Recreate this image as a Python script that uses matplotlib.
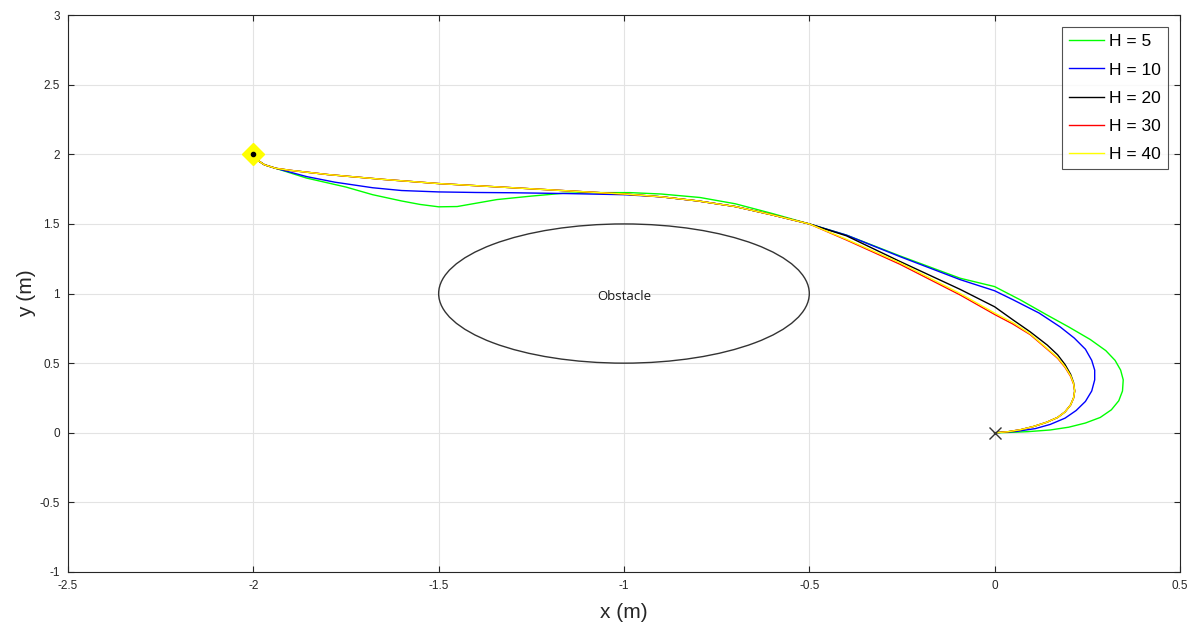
import matplotlib
matplotlib.use("Agg")
import matplotlib.pyplot as plt
import numpy as np
from matplotlib.patches import Ellipse

plt.rcParams['font.family'] = ['Liberation Sans', 'DejaVu Sans']

# ---- data ----
labels = ["H = 5", "H = 10", "H = 20", "H = 30", "H = 40"]
colors = ["#00ff00", "#0000ff", "#000000", "#ff0000", "#ffff00"]

start_seg_x = [-2.0, -1.99, -1.97, -1.94]
start_seg_y = [2.0, 1.96, 1.925, 1.90]

h5_x = start_seg_x + [-1.857, -1.75, -1.678, -1.60, -1.55, -1.50, -1.45, -1.343, -1.25, -1.165, -1.08, -0.984,
                      -0.90, -0.795, -0.70, -0.60, -0.50, -0.40, -0.255, -0.093, 0.0, 0.069, 0.142, 0.20,
                      0.258, 0.30, 0.325, 0.34, 0.347, 0.345, 0.335, 0.315, 0.285, 0.245, 0.20, 0.15,
                      0.09, 0.034, 0.0]
h5_y = start_seg_y + [1.83, 1.765, 1.71, 1.665, 1.64, 1.623, 1.625, 1.675, 1.70, 1.72, 1.725, 1.725,
                      1.715, 1.69, 1.645, 1.575, 1.50, 1.42, 1.27, 1.11, 1.05, 0.955, 0.845, 0.76,
                      0.67, 0.59, 0.52, 0.45, 0.38, 0.30, 0.23, 0.165, 0.11, 0.07, 0.04, 0.02,
                      0.008, 0.002, 0.0]

h10_x = start_seg_x + [-1.856, -1.78, -1.678, -1.60, -1.50, -1.40, -1.30, -1.15, -1.0, -0.9, -0.8, -0.7,
                       -0.6, -0.5, -0.40, -0.255, -0.093, 0.0, 0.05, 0.12, 0.177, 0.215, 0.245, 0.262,
                       0.27, 0.27, 0.262, 0.245, 0.22, 0.19, 0.15, 0.11, 0.06, 0.0]
h10_y = start_seg_y + [1.84, 1.80, 1.76, 1.74, 1.73, 1.726, 1.724, 1.718, 1.71, 1.695, 1.665, 1.625,
                       1.565, 1.50, 1.42, 1.265, 1.10, 1.02, 0.955, 0.86, 0.76, 0.68, 0.60, 0.52,
                       0.45, 0.38, 0.30, 0.225, 0.16, 0.105, 0.06, 0.03, 0.01, 0.0]

h20_x = start_seg_x + [-1.9, -1.8, -1.65, -1.5, -1.3, -1.1, -1.0, -0.9, -0.8, -0.7, -0.6, -0.5,
                       -0.40, -0.255, -0.093, 0.0, 0.05, 0.096, 0.142, 0.17, 0.19, 0.205, 0.213, 0.216,
                       0.213, 0.205, 0.19, 0.17, 0.14, 0.105, 0.07, 0.035, 0.0]
h20_y = start_seg_y + [1.885, 1.855, 1.82, 1.79, 1.76, 1.73, 1.715, 1.695, 1.665, 1.625, 1.565, 1.50,
                       1.415, 1.23, 1.03, 0.905, 0.81, 0.725, 0.63, 0.56, 0.49, 0.42, 0.36, 0.30,
                       0.25, 0.20, 0.15, 0.11, 0.075, 0.045, 0.022, 0.007, 0.0]

h30_x = start_seg_x + [-1.9, -1.8, -1.65, -1.5, -1.3, -1.1, -1.0, -0.9, -0.8, -0.7, -0.6, -0.5,
                       -0.40, -0.255, -0.093, 0.0, 0.05, 0.096, 0.142, 0.17, 0.19, 0.205, 0.213, 0.216,
                       0.213, 0.205, 0.19, 0.17, 0.14, 0.105, 0.07, 0.035, 0.0]
h30_y = start_seg_y + [1.885, 1.855, 1.82, 1.79, 1.76, 1.73, 1.715, 1.695, 1.665, 1.625, 1.565, 1.50,
                       1.385, 1.21, 0.99, 0.85, 0.78, 0.705, 0.60, 0.535, 0.47, 0.405, 0.35, 0.30,
                       0.25, 0.20, 0.15, 0.11, 0.075, 0.045, 0.022, 0.007, 0.0]

h40_x = start_seg_x + [-1.9, -1.8, -1.65, -1.5, -1.3, -1.1, -1.0, -0.9, -0.8, -0.7, -0.6, -0.5,
                       -0.40, -0.255, -0.093, 0.0, 0.05, 0.096, 0.142, 0.17, 0.19, 0.205, 0.213, 0.216,
                       0.213, 0.205, 0.19, 0.17, 0.14, 0.105, 0.07, 0.035, 0.0]
h40_y = start_seg_y + [1.885, 1.855, 1.82, 1.79, 1.76, 1.73, 1.715, 1.695, 1.665, 1.625, 1.565, 1.50,
                       1.39, 1.22, 1.0, 0.86, 0.79, 0.71, 0.605, 0.54, 0.475, 0.41, 0.355, 0.30,
                       0.25, 0.20, 0.15, 0.11, 0.075, 0.045, 0.022, 0.007, 0.0]

series_x = [h5_x, h10_x, h20_x, h30_x, h40_x]
series_y = [h5_y, h10_y, h20_y, h30_y, h40_y]

obstacle_center = (-1.0, 1.0)
obstacle_radius = 0.5
start_point = (-2.0, 2.0)
goal_point = (0.0, 0.0)

xticks = [-2.5, -2, -1.5, -1, -0.5, 0, 0.5]
xticklabels = ["-2.5", "-2", "-1.5", "-1", "-0.5", "0", "0.5"]
yticks = [-1, -0.5, 0, 0.5, 1, 1.5, 2, 2.5, 3]
yticklabels = ["-1", "-0.5", "0", "0.5", "1", "1.5", "2", "2.5", "3"]

# ---- figure ----
fig = plt.figure(figsize=(11.95, 6.30), dpi=100)
ax = fig.add_axes([0.0569, 0.0921, 0.9305, 0.8839])

for xs, ys, c, lab in zip(series_x, series_y, colors, labels):
    ax.plot(xs, ys, color=c, lw=1.0, label=lab, zorder=3)

ell = Ellipse(obstacle_center, 2 * obstacle_radius, 2 * obstacle_radius,
              fill=False, edgecolor="#333333", lw=1.0, zorder=2)
ax.add_patch(ell)
ax.text(obstacle_center[0], obstacle_center[1] - 0.02, "Obstacle", ha="center", va="center",
        fontsize=9.5, color="#1a1a1a", family=["Open Sans", "DejaVu Sans"], zorder=4)

ax.plot(*start_point, marker="D", markersize=11, color="#ffff00", mec="#ffff00", zorder=5)
ax.plot(*start_point, marker="o", markersize=3, color="black", zorder=6)
ax.plot(*goal_point, marker="x", markersize=8, color="#333333", mew=1.0, zorder=6)

ax.set_xlim(-2.5, 0.5)
ax.set_ylim(-1, 3)
ax.set_xticks(xticks)
ax.set_xticklabels(xticklabels)
ax.set_yticks(yticks)
ax.set_yticklabels(yticklabels)
ax.grid(True, color="#e3e3e3", lw=0.8, zorder=0)
ax.set_axisbelow(True)
ax.tick_params(direction="in", length=4, width=0.8, colors="#262626", labelsize=8.5,
               top=True, right=True, pad=6)
for sp in ax.spines.values():
    sp.set_color("#262626")
    sp.set_linewidth(0.8)

ax.set_xlabel("x (m)", fontsize=15, color="#262626", labelpad=8)
ax.set_ylabel("y (m)", fontsize=15, color="#262626", labelpad=2)

leg = ax.legend(loc="upper right", fontsize=12.5, frameon=True, fancybox=False,
                edgecolor="#262626", handlelength=2.0, handletextpad=0.3,
                borderpad=0.4, labelspacing=0.75, borderaxespad=0.7)
leg.get_frame().set_linewidth(0.8)

fig.savefig("out.png", dpi=100)
